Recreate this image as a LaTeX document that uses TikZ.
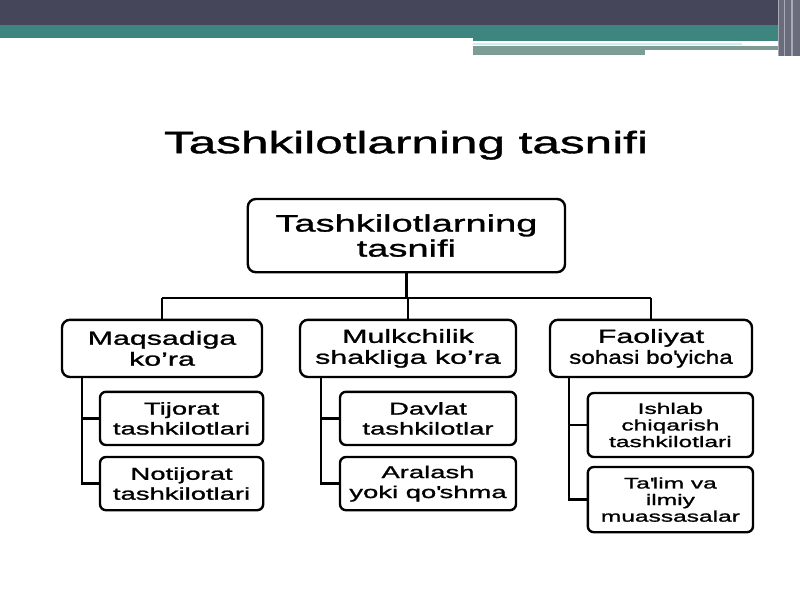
\documentclass[tikz,border=0pt]{standalone}
\usepackage{fontspec}
\setmainfont{Liberation Sans}[FakeStretch=1.6,FakeBold=1.2]
\usepackage{graphicx}
\usetikzlibrary{calc}
\definecolor{barDark}{HTML}{45465A}
\definecolor{barTeal}{HTML}{3E8580}
\definecolor{barGrey}{HTML}{7E9C96}
\definecolor{barLight}{HTML}{CDEEEE}
\definecolor{edgeGrey}{HTML}{A7ABB3}

\begin{document}
\begin{tikzpicture}[y=-1cm,
    box/.style={draw,line width=1.7pt,rounded corners=.2cm,fill=white,align=center,inner sep=0pt},
    rootbox/.style={box,minimum width=7.93cm,minimum height=1.83cm,font=\fontsize{16.9}{17.8}\selectfont},
    catbox/.style={box,minimum height=1.43cm,font=\fontsize{13.5}{14.9}\selectfont},
    leafbox/.style={box,rounded corners=.15cm,minimum height=1.33cm,font=\fontsize{12.2}{14.2}\selectfont},
    smallleaf/.style={box,rounded corners=.15cm,minimum width=4.13cm,font=\fontsize{10.9}{11.8}\selectfont},
    link/.style={line width=1.7pt}]
    \useasboundingbox (0,0) rectangle (20,15);

    % slide header
    \fill[barDark] (0,0) rectangle (20,.625);
    \fill[barTeal] (0,.625) rectangle (19.45,.95);
    \fill[barTeal] (11.825,.95) rectangle (19.45,1.025);
    \fill[barLight] (11.825,1.075) rectangle (18.55,1.125);
    \fill[barGrey] (11.825,1.15) rectangle (19.6,1.25);
    \fill[barGrey] (11.825,1.25) rectangle (16.125,1.375);
    \fill[barDark!80] (19.45,0) rectangle (20,1.4);
    \draw[edgeGrey,line width=.8pt] (19.47,0) -- (19.47,1.4) (19.62,0) -- (19.62,1.4) (19.8,0) -- (19.8,1.4);

    \node[anchor=base,font=\fontsize{22}{26}\selectfont] (title) at (10.15,3.83) {Tashkilotlarning tasnifi};

    \node[rootbox] (root) at (10.16,5.89) {Tashkilotlarning\\tasnifi};

    \node[catbox,minimum width=5cm] (cat1) at (4.05,8.71) {Maqsadiga\\ko'ra};
    \node[catbox,minimum width=5.4cm] (cat2) at (10.2,8.71) {Mulkchilik\\shakliga ko'ra};
    \node[catbox,minimum width=5.05cm] (cat3) at (16.275,8.71) {Faoliyat\\\scalebox{.8}[1]{sohasi bo\textquotesingle yicha}};

    \node[leafbox,minimum width=4.08cm] (t1) at (4.54,10.46) {Tijorat\\tashkilotlari};
    \node[leafbox,minimum width=4.08cm] (t2) at (4.54,12.09) {Notijorat\\tashkilotlari};
    \node[leafbox,minimum width=4.4cm] (m1) at (10.7,10.46) {Davlat\\tashkilotlar};
    \node[leafbox,minimum width=4.4cm] (m2) at (10.7,12.09) {Aralash\\yoki qo\textquotesingle shma};
    \node[smallleaf,minimum height=1.6cm] (f1) at (16.76,10.625) {Ishlab\\chiqarish\\tashkilotlari};
    \node[smallleaf,minimum height=1.63cm] (f2) at (16.76,12.49) {Ta\textquotesingle lim va\\ilmiy\\muassasalar};

    % connectors
    \coordinate (bus) at (0,7.45);
    \draw[link] (root.south) -- (root.south |- bus);
    \draw[link] (cat1.north |- bus) -- (cat3.north |- bus);
    \foreach \c in {cat1,cat2,cat3}
        \draw[link] (\c.north |- bus) -- (\c.north);

    \coordinate (s1) at ($(cat1.south west)+(.53,0)$);
    \coordinate (s2) at ($(cat2.south west)+(.55,0)$);
    \coordinate (s3) at ($(cat3.south west)+(.5,0)$);
    \draw[link] (s1) |- (t2.west);
    \draw[link] (s1 |- t1.west) -- (t1.west);
    \draw[link] (s2) |- (m2.west);
    \draw[link] (s2 |- m1.west) -- (m1.west);
    \draw[link] (s3) |- (f2.west);
    \draw[link] (s3 |- f1.west) -- (f1.west);
\end{tikzpicture}
\end{document}
